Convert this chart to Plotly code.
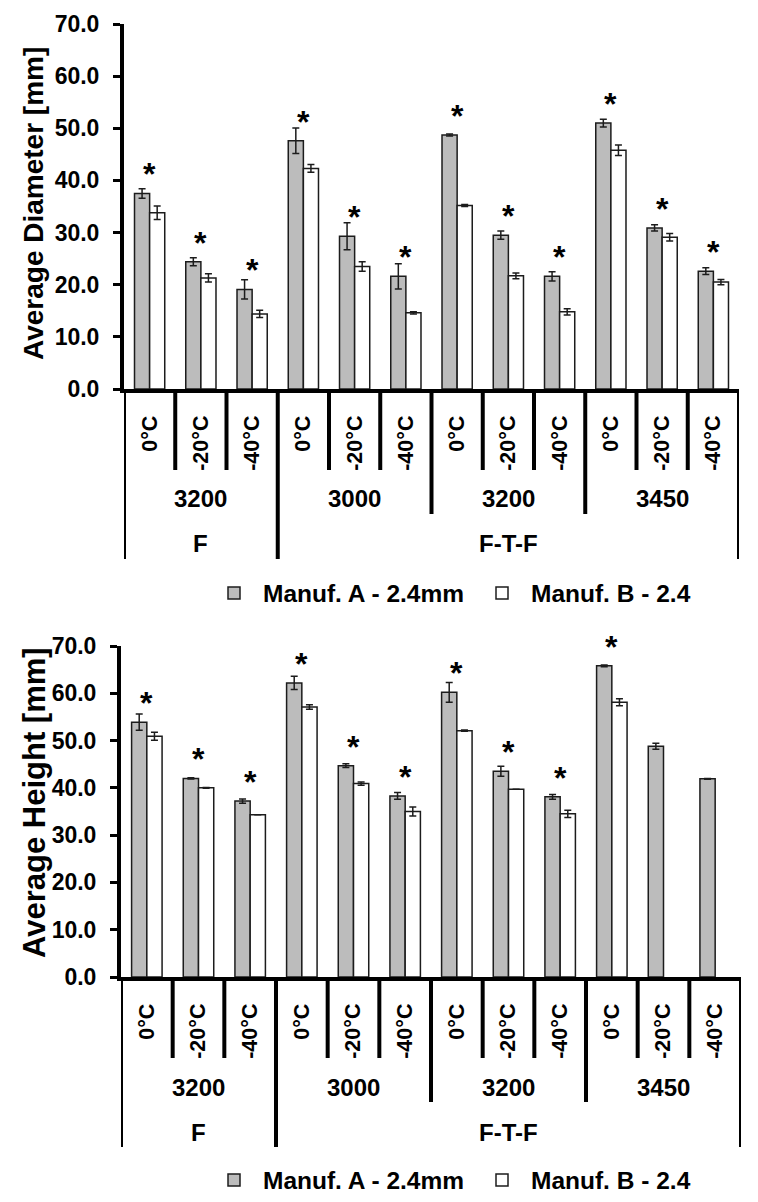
import plotly.graph_objects as go

W, H = 758, 1202

# ---------------- data ----------------
temps = ["0°C", "-20°C", "-40°C", "0°C", "-20°C", "-40°C",
         "0°C", "-20°C", "-40°C", "0°C", "-20°C", "-40°C"]
speeds = ["3200", "3000", "3200", "3450"]
cycles = ["F", "F-T-F"]
cycle_spans = [(0, 3), (3, 12)]          # category index ranges of each cycle group
series_names = ["Manuf. A - 2.4mm", "Manuf. B - 2.4"]

diam_A = [37.5, 24.4, 19.1, 47.6, 29.3, 21.6, 48.7, 29.5, 21.6, 51.0, 30.9, 22.6]
diam_A_err = [0.9, 0.75, 1.85, 2.45, 2.6, 2.4, 0.2, 0.8, 0.9, 0.75, 0.6, 0.65]
diam_B = [33.8, 21.3, 14.4, 42.3, 23.5, 14.6, 35.2, 21.7, 14.8, 45.8, 29.1, 20.5]
diam_B_err = [1.3, 0.8, 0.7, 0.75, 0.9, 0.2, 0.2, 0.55, 0.6, 1.0, 0.7, 0.5]
diam_sig = [True] * 12

height_A = [53.9, 42.0, 37.2, 62.2, 44.7, 38.3, 60.2, 43.5, 38.1, 65.8, 48.8, 41.9]
height_A_err = [1.7, 0.15, 0.45, 1.4, 0.4, 0.7, 2.1, 1.05, 0.5, 0.2, 0.65, 0.1]
height_B = [50.9, 40.0, 34.3, 57.1, 40.9, 35.0, 52.1, 39.7, 34.5, 58.1, None, None]
height_B_err = [0.85, 0.1, 0.0, 0.5, 0.35, 0.95, 0.15, 0.0, 0.75, 0.75, None, None]
height_sig = [True] * 10 + [False] * 2

# ---------------- styling ----------------
FONT = "Liberation Sans, Arial, sans-serif"
GRAY = "#bcbcbc"
EDGE = "#1c1c1c"
idx = list(range(len(temps)))

panels = [
    dict(A=diam_A, Ae=diam_A_err, B=diam_B, Be=diam_B_err, sig=diam_sig,
         title="Average Diameter [mm]", xpx=(124, 739), ypx=(24, 389), title_y=204,
         legend_y=593, title_size=28, suffix="", legend="legend"),
    dict(A=height_A, Ae=height_A_err, B=height_B, Be=height_B_err, sig=height_sig,
         title="Average Height [mm]", xpx=(121, 741), ypx=(646, 977), title_y=803,
         legend_y=1180, title_size=31, suffix="2", legend="legend2"),
]

fig = go.Figure()
shapes, annotations = [], []
layout = {}

for p in panels:
    xa, ya = "x" + p["suffix"], "y" + p["suffix"]
    for name, vals, errs, color in [(series_names[0], p["A"], p["Ae"], GRAY),
                                    (series_names[1], p["B"], p["Be"], "white")]:
        fig.add_trace(go.Bar(
            x=idx, y=vals, name=name, xaxis=xa, yaxis=ya, legend=p["legend"],
            marker=dict(color=color, line=dict(color=EDGE, width=1.5)),
            error_y=dict(type="data", array=errs, color=EDGE, thickness=1.5, width=3.5),
        ))

    x0p, x1p = p["xpx"]
    ytop, ybot = p["ypx"]
    layout["xaxis" + p["suffix"]] = dict(
        domain=[x0p / W, x1p / W], range=[-0.5, len(temps) - 0.5], anchor=ya,
        tickmode="array", tickvals=idx, ticktext=temps, tickangle=-90,
        ticks="", ticklabelstandoff=14, tickfont=dict(size=21.5), automargin=False,
        showline=True, linewidth=4, linecolor="black", showgrid=False, zeroline=False,
    )
    layout["yaxis" + p["suffix"]] = dict(
        domain=[1 - ybot / H, 1 - ytop / H], range=[0, 70], dtick=10, tickformat=".1f",
        anchor=xa, ticks="outside", ticklen=7, tickwidth=2.5, tickcolor="black",
        ticklabelstandoff=9, tickfont=dict(size=23), showline=True, linewidth=4,
        linecolor="black", showgrid=False, zeroline=False, automargin=False,
    )
    layout[p["legend"]] = dict(
        orientation="h", x=205 / W, xanchor="left", y=1 - p["legend_y"] / H,
        yanchor="middle", font=dict(size=24.5), bgcolor="rgba(0,0,0,0)",
        itemclick=False, tracegroupgap=0, itemwidth=48,
        entrywidth=205, entrywidthmode="pixels",
    )

    # y-axis title
    annotations.append(dict(
        text=p["title"], xref="paper", yref="paper", x=34 / W, y=1 - p["title_y"] / H,
        textangle=-90, showarrow=False, font=dict(size=p["title_size"]),
        xanchor="center", yanchor="middle"))

    # significance stars, placed above the Manuf. A bar
    for i, s in enumerate(p["sig"]):
        if not s:
            continue
        annotations.append(dict(
            text="*", x=i, y=p["A"][i], xref=xa, yref=ya, showarrow=False,
            yanchor="bottom", yshift=-1, font=dict(size=32)))

    # hierarchical category separators (below the axis)
    axis_y = 1 - ybot / H
    d_inner, d_group, d_outer = 81 / H, 125 / H, 170 / H
    cycle_edges = sorted({a for a, b in cycle_spans} | {b for a, b in cycle_spans})
    speed_edges = list(range(0, len(temps) + 1, 3))
    for k in range(len(temps) + 1):
        if k in cycle_edges:
            depth = d_outer
        elif k in speed_edges:
            depth = d_group
        else:
            depth = d_inner
        shapes.append(dict(type="line", xref=xa, yref="paper", x0=k - 0.5, x1=k - 0.5,
                           y0=axis_y, y1=axis_y - depth, line=dict(color="black", width=4)))
    for g, sp in enumerate(speeds):
        annotations.append(dict(text=sp, x=g * 3 + 1, xref=xa, yref="paper",
                                y=axis_y - 110 / H, showarrow=False, font=dict(size=24),
                                yanchor="middle"))
    for c, (a, b) in zip(cycles, cycle_spans):
        annotations.append(dict(text=c, x=(a + b - 1) / 2, xref=xa, yref="paper",
                                y=axis_y - 155 / H, showarrow=False, font=dict(size=24),
                                yanchor="middle"))

fig.update_layout(
    width=W, height=H, margin=dict(l=0, r=0, t=0, b=0, autoexpand=False),
    paper_bgcolor="white", plot_bgcolor="white",
    font=dict(family=FONT, color="black", weight="bold"),
    barmode="group", bargap=0.41, bargroupgap=0,
    shapes=shapes, annotations=annotations, **layout,
)

fig.write_html("out.html", config={"displayModeBar": False},
               post_script="document.body.style.margin='0';")
